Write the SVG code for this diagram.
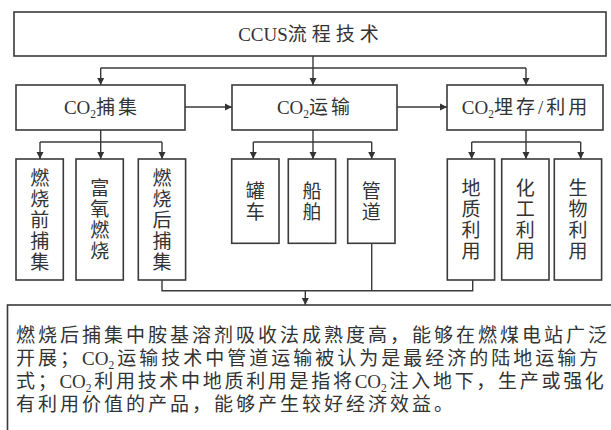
<svg xmlns="http://www.w3.org/2000/svg" width="611" height="430" viewBox="0 0 611 430">
<defs>
<marker id="ah" markerUnits="userSpaceOnUse" markerWidth="8" markerHeight="8" refX="7" refY="4" orient="auto">
<path d="M0,0.5 L7,4 L0,7.5 z" fill="#333"/>
</marker>
<style>
rect{fill:#fff;stroke:#3a3a3a;stroke-width:1.6}
.c line,.c polyline{stroke:#3a3a3a;stroke-width:1.4;fill:none}
.a{marker-end:url(#ah)}
text{font-family:"Liberation Serif","Noto Sans CJK SC",serif;fill:#333;font-size:19px}
.v{text-anchor:middle}
.sub{font-size:11.5px}
.sp{letter-spacing:3px}
.sp3{letter-spacing:2.7px}
</style>
</defs>
<rect x="0" y="0" width="611" height="430" style="fill:#fff;stroke:none"/>

<g id="top">
<rect x="14" y="12" width="592" height="44"/>
<text x="311" y="41" class="v">CCUS<tspan style="letter-spacing:5px">流程技术</tspan></text>
</g>

<g id="capture">
<rect x="16" y="85" width="169" height="45"/>
<text x="102" y="114" class="v">CO<tspan class="sub" dy="4">2</tspan><tspan dy="-4" class="sp">捕集</tspan></text>
</g>
<g id="transport">
<rect x="232" y="85" width="165" height="45"/>
<text x="315" y="114" class="v">CO<tspan class="sub" dy="4">2</tspan><tspan dy="-4" class="sp">运输</tspan></text>
</g>
<g id="storage">
<rect x="447" y="85" width="156" height="45"/>
<text x="526" y="114" class="v">CO<tspan class="sub" dy="4">2</tspan><tspan dy="-4" class="sp">埋存/利用</tspan></text>
</g>

<g id="pre">
<rect x="16" y="159" width="47.3" height="121"/>
<text class="v"><tspan x="39.7" y="184.5">燃</tspan><tspan x="39.7" y="205.5">烧</tspan><tspan x="39.7" y="226.5">前</tspan><tspan x="39.7" y="247.5">捕</tspan><tspan x="39.7" y="268.5">集</tspan></text>
</g>
<g id="oxy">
<rect x="76" y="159" width="47.3" height="121"/>
<text class="v"><tspan x="99.7" y="195">富</tspan><tspan x="99.7" y="216">氧</tspan><tspan x="99.7" y="237">燃</tspan><tspan x="99.7" y="258">烧</tspan></text>
</g>
<g id="post">
<rect x="138.3" y="159" width="47.3" height="121"/>
<text class="v"><tspan x="162" y="184.5">燃</tspan><tspan x="162" y="205.5">烧</tspan><tspan x="162" y="226.5">后</tspan><tspan x="162" y="247.5">捕</tspan><tspan x="162" y="268.5">集</tspan></text>
</g>

<g id="tank">
<rect x="231.7" y="159" width="47.3" height="84.3"/>
<text class="v"><tspan x="255.3" y="197.8">罐</tspan><tspan x="255.3" y="218.8">车</tspan></text>
</g>
<g id="ship">
<rect x="288.3" y="159" width="47.3" height="84.3"/>
<text class="v"><tspan x="312" y="197.8">船</tspan><tspan x="312" y="218.8">舶</tspan></text>
</g>
<g id="pipe">
<rect x="347.7" y="159" width="47.3" height="84.3"/>
<text class="v"><tspan x="371.3" y="197.8">管</tspan><tspan x="371.3" y="218.8">道</tspan></text>
</g>

<g id="geo">
<rect x="447.3" y="159" width="47.3" height="121"/>
<text class="v"><tspan x="471" y="195">地</tspan><tspan x="471" y="216">质</tspan><tspan x="471" y="237">利</tspan><tspan x="471" y="258">用</tspan></text>
</g>
<g id="chem">
<rect x="501.7" y="159" width="47.3" height="121"/>
<text class="v"><tspan x="525.3" y="195">化</tspan><tspan x="525.3" y="216">工</tspan><tspan x="525.3" y="237">利</tspan><tspan x="525.3" y="258">用</tspan></text>
</g>
<g id="bio">
<rect x="554.3" y="159" width="47.3" height="121"/>
<text class="v"><tspan x="578" y="195">生</tspan><tspan x="578" y="216">物</tspan><tspan x="578" y="237">利</tspan><tspan x="578" y="258">用</tspan></text>
</g>

<g id="note">
<rect x="7.5" y="305" width="700" height="200"/>
<text x="16" y="342" class="sp">燃烧后捕集中胺基溶剂吸收法成熟度高，能够在燃煤电站广泛</text>
<text x="16" y="365"><tspan class="sp">开展；</tspan>CO<tspan class="sub sp" dy="4">2</tspan><tspan dy="-4" class="sp">运输技术中管道运输被认为是最经济的陆地运输方</tspan></text>
<text x="16" y="388"><tspan class="sp3">式；</tspan>CO<tspan class="sub sp3" dy="4">2</tspan><tspan dy="-4" class="sp3">利用技术中地质利用是指将</tspan>CO<tspan class="sub sp3" dy="4">2</tspan><tspan dy="-4" class="sp3">注入地下，生产或强化</tspan></text>
<text x="16" y="411" class="sp">有利用价值的产品，能够产生较好经济效益。</text>
</g>

<g id="connectors" class="c">
<line x1="313" y1="56" x2="313" y2="85" class="a"/>
<line x1="100.7" y1="68" x2="526" y2="68"/>
<line x1="100.7" y1="68" x2="100.7" y2="85" class="a"/>
<line x1="526" y1="68" x2="526" y2="85" class="a"/>
<line x1="185" y1="107" x2="232" y2="107" class="a"/>
<line x1="397" y1="107" x2="447" y2="107" class="a"/>

<line x1="100.7" y1="130" x2="100.7" y2="159" class="a"/>
<line x1="40" y1="142" x2="162" y2="142"/>
<line x1="40" y1="142" x2="40" y2="159" class="a"/>
<line x1="162" y1="142" x2="162" y2="159" class="a"/>

<line x1="313" y1="130" x2="313" y2="159" class="a"/>
<line x1="253.3" y1="142" x2="371.7" y2="142"/>
<line x1="253.3" y1="142" x2="253.3" y2="159" class="a"/>
<line x1="371.7" y1="142" x2="371.7" y2="159" class="a"/>

<line x1="526" y1="130" x2="526" y2="159" class="a"/>
<line x1="471.7" y1="142" x2="580.7" y2="142"/>
<line x1="471.7" y1="142" x2="471.7" y2="159" class="a"/>
<line x1="580.7" y1="142" x2="580.7" y2="159" class="a"/>

<polyline points="162,280 162,290.7 472.7,290.7 472.7,280"/>
<line x1="371.7" y1="243.3" x2="371.7" y2="290.7"/>
<line x1="305.3" y1="290.7" x2="305.3" y2="305" class="a"/>
</g>
</svg>
